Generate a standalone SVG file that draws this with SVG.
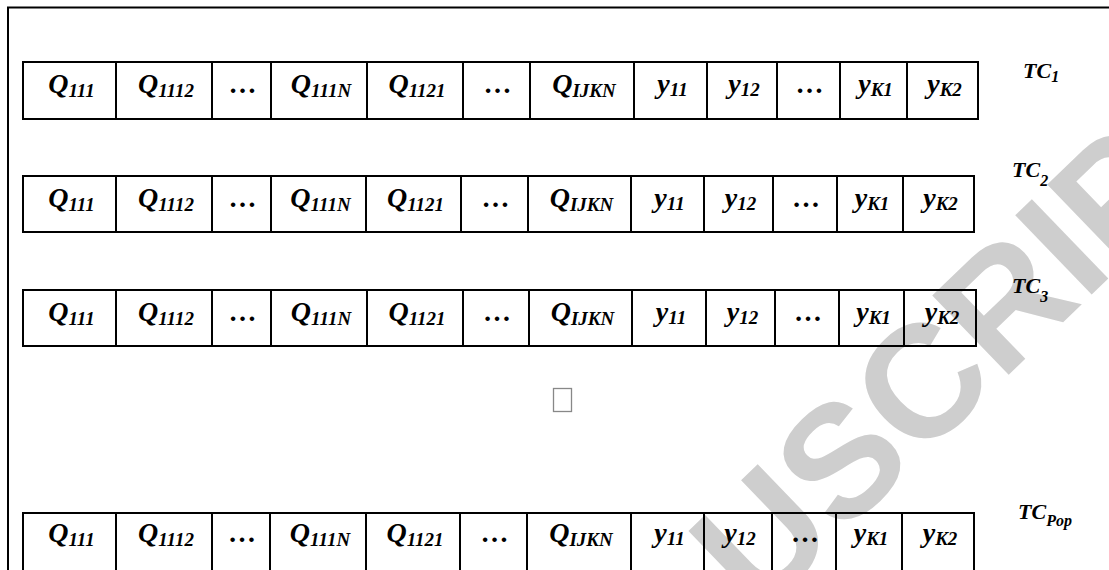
<svg xmlns="http://www.w3.org/2000/svg" width="1109" height="570" viewBox="0 0 1109 570">
<style>
.ln{fill:none;stroke:#000;stroke-width:2}
.t{font-family:"Liberation Serif","Times New Roman",serif;font-weight:bold;font-style:italic;font-size:28px;fill:#000;text-anchor:middle}
.s{font-size:19px}
.tc{font-family:"Liberation Serif","Times New Roman",serif;font-weight:bold;font-style:italic;font-size:22px;fill:#000}
.ts{font-size:16px}
.wm{font-family:"Liberation Sans",Arial,sans-serif;font-weight:bold;font-size:160px;fill:#cecece}
</style>
<rect width="1109" height="570" fill="#fff"/>
<g id="watermark">
<text class="wm" x="758" y="617" transform="rotate(-44 758 617)">USCRIPT</text>
</g>
<path class="ln" d="M8,571 V7.5 H1110"/>
<g id="connectors"/>
<g id="row-tc1">
<path class="ln" d="M23,62 H978 V119 H23 Z M116,62 V119 M212,62 V119 M271,62 V119 M367,62 V119 M463,62 V119 M530,62 V119 M634,62 V119 M707,62 V119 M777,62 V119 M840,62 V119 M907,62 V119"/>
<text class="t" x="71.5" y="93">Q<tspan class="s" dy="4">111</tspan></text>
<text class="t" x="166" y="93">Q<tspan class="s" dy="4">1112</tspan></text>
<text class="t" x="243.5" y="93">…</text>
<text class="t" x="321" y="93">Q<tspan class="s" dy="4">111N</tspan></text>
<text class="t" x="417" y="93">Q<tspan class="s" dy="4">1121</tspan></text>
<text class="t" x="498.5" y="93">…</text>
<text class="t" x="584" y="93">Q<tspan class="s" dy="4">IJKN</tspan></text>
<text class="t" x="672.5" y="93">y<tspan class="s" dy="3">11</tspan></text>
<text class="t" x="744" y="93">y<tspan class="s" dy="3">12</tspan></text>
<text class="t" x="810.5" y="93">…</text>
<text class="t" x="875.5" y="93">y<tspan class="s" dy="3">K1</tspan></text>
<text class="t" x="944.5" y="93">y<tspan class="s" dy="3">K2</tspan></text>
<text class="tc" x="1023" y="78">TC<tspan class="ts" dy="4">1</tspan></text>
</g>
<g id="row-tc2">
<path class="ln" d="M23,176 H974 V232 H23 Z M116,176 V232 M212,176 V232 M271,176 V232 M366,176 V232 M461,176 V232 M528,176 V232 M631,176 V232 M704,176 V232 M773,176 V232 M837,176 V232 M903,176 V232"/>
<text class="t" x="71.5" y="207">Q<tspan class="s" dy="4">111</tspan></text>
<text class="t" x="166" y="207">Q<tspan class="s" dy="4">1112</tspan></text>
<text class="t" x="243.5" y="207">…</text>
<text class="t" x="320.5" y="207">Q<tspan class="s" dy="4">111N</tspan></text>
<text class="t" x="415.5" y="207">Q<tspan class="s" dy="4">1121</tspan></text>
<text class="t" x="496.5" y="207">…</text>
<text class="t" x="581.5" y="207">Q<tspan class="s" dy="4">IJKN</tspan></text>
<text class="t" x="669.5" y="207">y<tspan class="s" dy="3">11</tspan></text>
<text class="t" x="740.5" y="207">y<tspan class="s" dy="3">12</tspan></text>
<text class="t" x="807" y="207">…</text>
<text class="t" x="872" y="207">y<tspan class="s" dy="3">K1</tspan></text>
<text class="t" x="940.5" y="207">y<tspan class="s" dy="3">K2</tspan></text>
<text class="tc" x="1012" y="177">TC<tspan class="ts" dy="9">2</tspan></text>
</g>
<g id="row-tc3">
<path class="ln" d="M23,290 H976 V346 H23 Z M116,290 V346 M212,290 V346 M271,290 V346 M367,290 V346 M463,290 V346 M529,290 V346 M632,290 V346 M706,290 V346 M775,290 V346 M839,290 V346 M904,290 V346"/>
<text class="t" x="71.5" y="321">Q<tspan class="s" dy="4">111</tspan></text>
<text class="t" x="166" y="321">Q<tspan class="s" dy="4">1112</tspan></text>
<text class="t" x="243.5" y="321">…</text>
<text class="t" x="321" y="321">Q<tspan class="s" dy="4">111N</tspan></text>
<text class="t" x="417" y="321">Q<tspan class="s" dy="4">1121</tspan></text>
<text class="t" x="498" y="321">…</text>
<text class="t" x="582.5" y="321">Q<tspan class="s" dy="4">IJKN</tspan></text>
<text class="t" x="671" y="321">y<tspan class="s" dy="3">11</tspan></text>
<text class="t" x="742.5" y="321">y<tspan class="s" dy="3">12</tspan></text>
<text class="t" x="809" y="321">…</text>
<text class="t" x="873.5" y="321">y<tspan class="s" dy="3">K1</tspan></text>
<text class="t" x="942" y="321">y<tspan class="s" dy="3">K2</tspan></text>
<text class="tc" x="1012" y="293">TC<tspan class="ts" dy="9">3</tspan></text>
</g>
<g id="ellipsis-mark">
<rect x="553.5" y="388.5" width="18" height="23" fill="none" stroke="#888" stroke-width="1.3"/>
</g>
<g id="row-tcpop">
<path class="ln" d="M23,576 V513 H974 V576 M116,513 V576 M212,513 V576 M270,513 V576 M366,513 V576 M460,513 V576 M527,513 V576 M631,513 V576 M704,513 V576 M772,513 V576 M836,513 V576 M902,513 V576"/>
<text class="t" x="71.5" y="542">Q<tspan class="s" dy="4">111</tspan></text>
<text class="t" x="166" y="542">Q<tspan class="s" dy="4">1112</tspan></text>
<text class="t" x="243" y="542">…</text>
<text class="t" x="320" y="542">Q<tspan class="s" dy="4">111N</tspan></text>
<text class="t" x="415" y="542">Q<tspan class="s" dy="4">1121</tspan></text>
<text class="t" x="495.5" y="542">…</text>
<text class="t" x="581" y="542">Q<tspan class="s" dy="4">IJKN</tspan></text>
<text class="t" x="669.5" y="542">y<tspan class="s" dy="3">11</tspan></text>
<text class="t" x="740" y="542">y<tspan class="s" dy="3">12</tspan></text>
<text class="t" x="806" y="542">…</text>
<text class="t" x="871" y="542">y<tspan class="s" dy="3">K1</tspan></text>
<text class="t" x="940" y="542">y<tspan class="s" dy="3">K2</tspan></text>
<text class="tc" x="1018" y="519">TC<tspan class="ts" dy="7">Pop</tspan></text>
</g>
</svg>
